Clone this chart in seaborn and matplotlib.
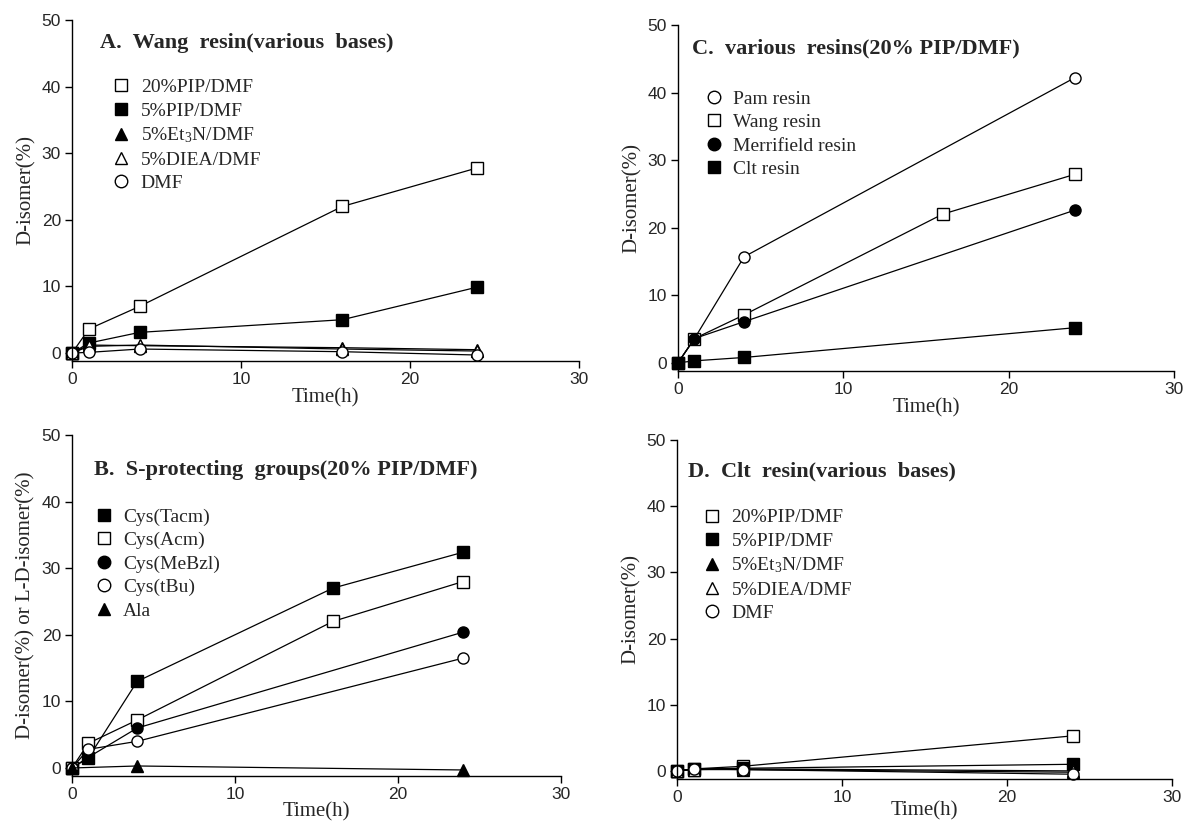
import numpy as np
import pandas as pd
import matplotlib
matplotlib.use("Agg")
import matplotlib.pyplot as plt
from matplotlib.lines import Line2D
from matplotlib import font_manager
import seaborn as sns

# ---------------- data ----------------
time_all = [0, 1, 4, 16, 24]
time_no16 = [0, 1, 4, 24]

# Panel A: Wang resin (various bases)
a_labels = ["20%PIP/DMF", "5%PIP/DMF", "5%Et$_3$N/DMF", "5%DIEA/DMF", "DMF"]
a_20pip = [0, 3.6, 7.0, 22.0, 27.8]
a_5pip = [0, 1.5, 3.1, 5.0, 9.9]
a_et3n = [0, 1.2, 1.1, 0.8, 0.5]
a_diea = [0, 1.0, 1.2, 0.6, 0.3]
a_dmf = [0, 0.1, 0.6, 0.2, -0.3]

# Panel B: S-protecting groups (20% PIP/DMF)
b_labels = ["Cys(Tacm)", "Cys(Acm)", "Cys(MeBzl)", "Cys(tBu)", "Ala"]
b_tacm = [0, 1.5, 13.0, 27.0, 32.4]
b_acm = [0, 3.7, 7.2, 22.0, 28.0]
b_mebzl = [0, 1.6, 6.0, 20.4]
b_tbu = [0, 2.8, 4.0, 16.5]
b_ala_t = [0, 4, 24]
b_ala = [0, 0.3, -0.3]

# Panel C: various resins (20% PIP/DMF)
c_labels = ["Pam resin", "Wang resin", "Merrifield resin", "Clt resin"]
c_pam = [0, 3.6, 15.7, 42.2]
c_wang = [0, 3.6, 7.1, 22.0, 27.9]
c_merr = [0, 3.6, 6.1, 22.6]
c_clt = [0, 0.3, 0.8, 5.2]

# Panel D: Clt resin (various bases)
d_labels = ["20%PIP/DMF", "5%PIP/DMF", "5%Et$_3$N/DMF", "5%DIEA/DMF", "DMF"]
d_20pip = [0, 0.3, 0.7, 5.3]
d_5pip = [0, 0.3, 0.4, 1.0]
d_et3n = [0, 0.2, 0.2, -0.2]
d_diea = [0, 0.2, 0.3, 0.0]
d_dmf = [0, 0.3, 0.2, -0.5]

titles = ["A.  Wang  resin(various  bases)",
          "B.  S-protecting  groups(20% PIP/DMF)",
          "C.  various  resins(20% PIP/DMF)",
          "D.  Clt  resin(various  bases)"]
ylabels = ["D-isomer(%)", "D-isomer(%) or L-D-isomer(%)", "D-isomer(%)", "D-isomer(%)"]
xlabel = "Time(h)"
xticks = [0, 10, 20, 30]
yticks = [0, 10, 20, 30, 40, 50]

# ---------------- style ----------------
sns.set_theme(style="ticks")
avail = {f.name for f in font_manager.fontManager.ttflist}
serif = "Liberation Serif" if "Liberation Serif" in avail else "DejaVu Serif"
sans = "Liberation Sans Narrow" if "Liberation Sans Narrow" in avail else "Liberation Sans"
plt.rcParams["font.family"] = [serif, "DejaVu Serif"]
plt.rcParams["mathtext.fontset"] = "custom"
plt.rcParams["mathtext.rm"] = serif
plt.rcParams["mathtext.it"] = serif + ":italic"
plt.rcParams["mathtext.bf"] = serif + ":bold"

fig = plt.figure(figsize=(11.84, 8.22), dpi=100)

# axes rectangles [left, bottom, width, height]
rects = {
    "A": [0.0608, 0.5608, 0.4280, 0.4149],
    "B": [0.0608, 0.0560, 0.4130, 0.4148],
    "C": [0.5726, 0.5487, 0.4190, 0.4209],
    "D": [0.5718, 0.0525, 0.4180, 0.4122],
}

def draw(ax, series, labels, title, ylabel, title_xy, leg_xy, xlabel_pad=2):
    handles = []
    for (t, y, mk, filled), lab in zip(series, labels):
        df = pd.DataFrame({"t": t, "y": y})
        fc = "black" if filled else "white"
        sns.lineplot(data=df, x="t", y="y", ax=ax, color="black", lw=0.9,
                     marker=mk, markersize=8 if mk != "^" else 8.5,
                     markerfacecolor=fc, markeredgecolor="black",
                     markeredgewidth=1.0, estimator=None, sort=False,
                     legend=False, clip_on=False)
        handles.append(Line2D([], [], ls="none", marker=mk, markersize=9,
                              markerfacecolor=fc, markeredgecolor="black",
                              markeredgewidth=1.0, label=lab))
    ax.set_xlim(0, 30)
    ax.set_ylim(-1.2, 50)
    ax.set_xticks(xticks)
    ax.set_yticks(yticks)
    ax.set_xticklabels([str(v) for v in xticks], fontfamily=sans, fontsize=12.5)
    ax.set_yticklabels([str(v) for v in yticks], fontfamily=sans, fontsize=12.5)
    ax.tick_params(direction="out", length=5, width=1, color="black", pad=3)
    for s in ["top", "right"]:
        ax.spines[s].set_visible(False)
    for s in ["left", "bottom"]:
        ax.spines[s].set_color("black")
        ax.spines[s].set_linewidth(1.0)
    ax.set_xlabel(xlabel, fontsize=15, labelpad=xlabel_pad)
    ax.set_ylabel(ylabel, fontsize=15, labelpad=4)
    ax.text(title_xy[0], title_xy[1], title, transform=ax.transAxes,
            fontsize=16, fontweight="bold", ha="left", va="center")
    ax.legend(handles=handles, loc="upper left", bbox_to_anchor=leg_xy,
              frameon=False, fontsize=14, handlelength=0.8, handletextpad=0.6,
              borderpad=0, borderaxespad=0, labelspacing=0.3)
    ax.set_facecolor("white")

axA = fig.add_axes(rects["A"])
draw(axA,
     [(time_all, a_20pip, "s", False), (time_all, a_5pip, "s", True),
      (time_all, a_et3n, "^", True), (time_all, a_diea, "^", False),
      (time_all, a_dmf, "o", False)],
     a_labels, titles[0], ylabels[0], (0.055, 0.933), (0.082, 0.828), xlabel_pad=1)

axB = fig.add_axes(rects["B"])
draw(axB,
     [(time_all, b_tacm, "s", True), (time_all, b_acm, "s", False),
      (time_no16, b_mebzl, "o", True), (time_no16, b_tbu, "o", False),
      (b_ala_t, b_ala, "^", True)],
     b_labels, titles[1], ylabels[1], (0.045, 0.897), (0.049, 0.786), xlabel_pad=0)

axC = fig.add_axes(rects["C"])
draw(axC,
     [(time_no16, c_pam, "o", False), (time_all, c_wang, "s", False),
      (time_no16, c_merr, "o", True), (time_no16, c_clt, "s", True)],
     c_labels, titles[2], ylabels[2], (0.029, 0.931), (0.057, 0.812), xlabel_pad=1)

axD = fig.add_axes(rects["D"])
draw(axD,
     [(time_no16, d_20pip, "s", False), (time_no16, d_5pip, "s", True),
      (time_no16, d_et3n, "^", True), (time_no16, d_diea, "^", False),
      (time_no16, d_dmf, "o", False)],
     d_labels, titles[3], ylabels[3], (0.023, 0.908), (0.055, 0.797), xlabel_pad=-3)

fig.savefig("out.png", dpi=100, facecolor="white")
